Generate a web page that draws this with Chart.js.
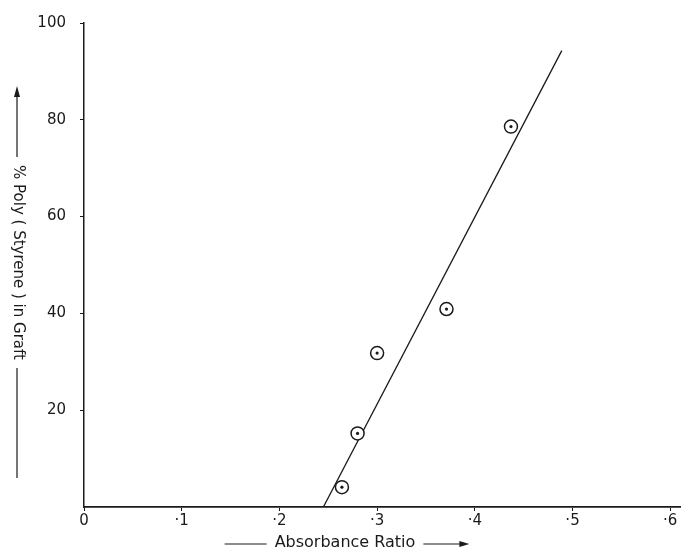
<!DOCTYPE html>
<html>
<head>
<meta charset="utf-8">
<script src="https://cdn.jsdelivr.net/npm/chart.js@4.4.1/dist/chart.umd.min.js"></script>
<style>
  html, body { margin: 0; padding: 0; background: #fff; }
  #wrap { width: 688px; height: 552px; }
</style>
</head>
<body>
<div id="wrap"><canvas id="chart" width="688" height="552"></canvas></div>
<script>
// measured points (absorbance ratio, % polystyrene in graft)
const ratio = [0.264, 0.280, 0.300, 0.371, 0.437];
const polyPct = [4.1, 15.2, 31.8, 40.9, 78.6];
// ends of the drawn straight line
const lineRatio = [0.245, 0.489];
const linePct = [0, 94.3];
const xTicks = [0, 0.1, 0.2, 0.3, 0.4, 0.5, 0.6];
const xTickLabels = ["0", "·1", "·2", "·3", "·4", "·5", "·6"];
const yTicks = [20, 40, 60, 80, 100];
const xTitle = "Absorbance Ratio";
const yTitle = "% Poly ( Styrene ) in Graft";

const ink = "#1a1a1a";
const font = "'DejaVu Sans', sans-serif";

const pts = ratio.map((x, i) => ({ x: x, y: polyPct[i] }));
const linePts = lineRatio.map((x, i) => ({ x: x, y: linePct[i] }));

// axis titles with the hand drawn arrows
const titles = {
  id: "titles",
  afterDraw(chart) {
    const ctx = chart.ctx;
    ctx.save();
    ctx.strokeStyle = ink;
    ctx.fillStyle = ink;
    ctx.lineWidth = 1.2;

    // x title
    ctx.font = "16px " + font;
    ctx.textAlign = "center";
    ctx.textBaseline = "middle";
    const xc = 345, yc = 543;
    ctx.fillText(xTitle, xc, yc);
    const halfW = ctx.measureText(xTitle).width / 2;
    ctx.beginPath();
    ctx.moveTo(xc - halfW - 50, yc + 1);
    ctx.lineTo(xc - halfW - 8, yc + 1);
    ctx.moveTo(xc + halfW + 8, yc + 1);
    ctx.lineTo(xc + halfW + 48, yc + 1);
    ctx.stroke();
    ctx.beginPath();
    ctx.moveTo(xc + halfW + 54, yc + 1);
    ctx.lineTo(xc + halfW + 44, yc - 2);
    ctx.lineTo(xc + halfW + 44, yc + 4);
    ctx.closePath();
    ctx.fill();

    // y title, reading top to bottom
    const tx = 18;
    ctx.font = "15px " + font;
    const tw = ctx.measureText(yTitle).width;
    const tTop = 165;
    ctx.save();
    ctx.translate(tx, tTop + tw / 2);
    ctx.rotate(Math.PI / 2);
    ctx.fillText(yTitle, 0, 0);
    ctx.restore();
    ctx.beginPath();
    ctx.moveTo(tx - 1, 94);
    ctx.lineTo(tx - 1, tTop - 8);
    ctx.moveTo(tx - 1, tTop + tw + 8);
    ctx.lineTo(tx - 1, 478);
    ctx.stroke();
    ctx.beginPath();
    ctx.moveTo(tx - 1, 86);
    ctx.lineTo(tx - 4, 97);
    ctx.lineTo(tx + 2, 97);
    ctx.closePath();
    ctx.fill();
    ctx.restore();
  }
};

new Chart(document.getElementById("chart"), {
  type: "scatter",
  data: {
    datasets: [
      {
        label: "line",
        data: linePts,
        showLine: true,
        borderColor: ink,
        borderWidth: 1.3,
        pointRadius: 0,
        order: 3
      },
      {
        label: "points",
        data: pts,
        showLine: false,
        pointStyle: "circle",
        pointRadius: 6.5,
        borderColor: ink,
        borderWidth: 1.5,
        backgroundColor: "#fff",
        order: 2
      },
      {
        label: "centres",
        data: pts,
        showLine: false,
        pointRadius: 1.6,
        borderWidth: 0,
        backgroundColor: ink,
        order: 1
      }
    ]
  },
  options: {
    responsive: false,
    animation: false,
    events: [],
    layout: { padding: { top: 20, right: 3, left: 0, bottom: 0 } },
    plugins: { legend: { display: false }, tooltip: { enabled: false } },
    scales: {
      x: {
        type: "linear",
        min: 0,
        max: 0.61,
        border: { color: ink, width: 1.8 },
        grid: { drawOnChartArea: false, color: ink, tickLength: 4 },
        afterBuildTicks: (s) => { s.ticks = xTicks.map(v => ({ value: v })); },
        afterFit: (s) => { s.height = 45; },
        ticks: {
          color: ink,
          font: { family: font, size: 15 },
          padding: 1,
          maxRotation: 0,
          callback: (v) => xTickLabels[xTicks.indexOf(v)] ?? ""
        }
      },
      y: {
        type: "linear",
        min: 0,
        max: 100,
        border: { color: ink, width: 1.5 },
        grid: { drawOnChartArea: false, color: ink, tickLength: 4 },
        afterBuildTicks: (s) => { s.ticks = yTicks.map(v => ({ value: v })); },
        afterFit: (s) => { s.width = 84; },
        ticks: {
          color: ink,
          font: { family: font, size: 15 },
          padding: 14
        }
      }
    }
  },
  plugins: [titles]
});
</script>
</body>
</html>
